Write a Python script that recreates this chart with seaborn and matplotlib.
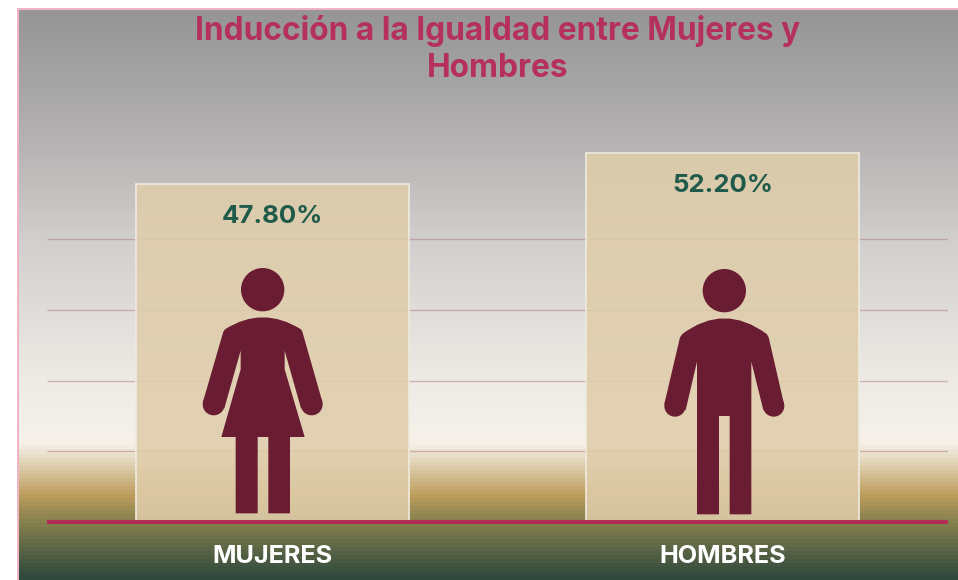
import numpy as np
import pandas as pd
import matplotlib
matplotlib.use("Agg")
import matplotlib.pyplot as plt
import seaborn as sns
from matplotlib.colors import LinearSegmentedColormap
from matplotlib.patches import Circle, PathPatch, Rectangle
from matplotlib.path import Path

categories = ["MUJERES", "HOMBRES"]
percent_values = [47.80, 52.20]
grid_ticks = [0, 10, 20, 30, 40]
title_text = "Inducción a la Igualdad entre Mujeres y\nHombres"

W, H = 958, 580
FONT = ["Inter", "DejaVu Sans"]
TITLE = "#b5305a"; GREEN = "#1f5a4a"; WINE = "#691c32"

sns.set_theme(style="white")
plt.rcParams["font.family"] = FONT
fig = plt.figure(figsize=(W / 100, H / 100), dpi=100, facecolor="white")


def px_axes(x0, y0, x1, y1, **kw):
    return fig.add_axes([x0 / W, 1 - y1 / H, (x1 - x0) / W, (y1 - y0) / H], **kw)


# background gradient panel
bg = px_axes(19, 10, 958, 580)
stops = [(0.0, "#969696"), (0.20, "#b0aeae"), (0.40, "#d0cfcd"), (0.65, "#eeebe6"),
         (0.765, "#f6f2ea"), (0.775, "#eee6d6"), (0.855, "#bd9d5c"), (0.90, "#87814f"),
         (1.0, "#2f4a3c")]
cmap = LinearSegmentedColormap.from_list("bg", stops, N=140)
bg.imshow(np.linspace(0, 1, 570)[:, None], aspect="auto", cmap=cmap, interpolation="nearest")
bg.axis("off")
# thin pink frame
frame = px_axes(0, 0, W, H)
frame.set_xlim(0, W); frame.set_ylim(H, 0); frame.axis("off"); frame.patch.set_alpha(0)
frame.add_patch(Rectangle((17, 8), W - 17, 2, color="#f0b4c8", lw=0))
frame.add_patch(Rectangle((17, 8), 2, H - 8, color="#f0b4c8", lw=0))

# main chart
ax = px_axes(47, 98, 948, 522)
ax.patch.set_alpha(0)
df = pd.DataFrame({"cat": categories, "val": percent_values})
ax.hlines(grid_ticks[1:], -0.5, 1.5, color="#a86c78", alpha=0.45, lw=1.0, zorder=1)
sns.barplot(data=df, x="cat", y="val", ax=ax, width=0.606, color="#dfcdaa", saturation=1,
            alpha=0.87, edgecolor="#efeade", linewidth=1.4, zorder=2)
ax.set_xlim(-0.5, 1.5); ax.set_ylim(0, 60)
ax.set_xlabel(""); ax.set_ylabel(""); ax.set_yticks([])
ax.tick_params(axis="x", length=0, pad=16.5)
for t in ax.get_xticklabels():
    t.set_fontsize(18.2); t.set_fontweight("bold"); t.set_color("white")
sns.despine(ax=ax, left=True, right=True, top=True, bottom=False)
ax.spines["bottom"].set_color("#b02e55"); ax.spines["bottom"].set_linewidth(2.9)
ax.spines["bottom"].set_capstyle("butt")
for i, v in enumerate(percent_values):
    ax.annotate(f"{v:.2f}%", (i, v), xytext=(0, -32.5 * 0.72), textcoords="offset points",
                ha="center", va="center", fontsize=18.6, fontweight="bold", color=GREEN, zorder=5)

# title
frame.set_zorder(5)
frame.text(498, 49.5, title_text, ha="center", va="center", fontsize=22.8, fontweight="bold",
           color=TITLE, linespacing=1.26)


# pictograms, traced in pixels of a zoomed outline
def figure_icon(ox, oy, head, hands, verts, codes):
    tr = lambda p: (ox + p[0] / 3, oy + p[1] / 3)
    frame.add_patch(Circle(tr(head[:2]), head[2] / 3, color=WINE, lw=0))
    for h in hands:
        frame.add_patch(Circle(tr(h[:2]), h[2] / 3, color=WINE, lw=0))
    frame.add_patch(PathPatch(Path([tr(v) for v in verts], codes), facecolor=WINE, lw=0))


female = [(100, 215), (105, 208), (218, 136), (333, 208), (337, 215), (397, 425), (333, 445),
          (284, 272), (284, 328), (344, 531), (300, 531), (300, 760), (235, 760), (235, 531),
          (203, 531), (203, 760), (137, 760), (137, 531), (94, 531), (152, 328), (152, 272),
          (103, 445), (39, 425), (100, 215)]
male = [(90, 232), (97, 222), (223, 128), (350, 222), (356, 232), (402, 432), (340, 450),
        (304, 305), (304, 763), (239, 763), (239, 468), (207, 468), (207, 763), (141, 763),
        (141, 305), (107, 450), (43, 432), (90, 232)]


def codes_for(v):
    c = [Path.LINETO] * len(v)
    c[0] = Path.MOVETO
    c[2] = Path.CURVE3
    c[3] = Path.CURVE3
    c[-1] = Path.CLOSEPOLY
    return c


figure_icon(190, 260, (218, 89, 65), [(71, 433, 33), (365, 433, 33)], female, codes_for(female))
figure_icon(650, 260, (223, 92, 65), [(75, 438, 32), (371, 438, 32)], male, codes_for(male))

fig.savefig("out.png", dpi=100, facecolor="white")
